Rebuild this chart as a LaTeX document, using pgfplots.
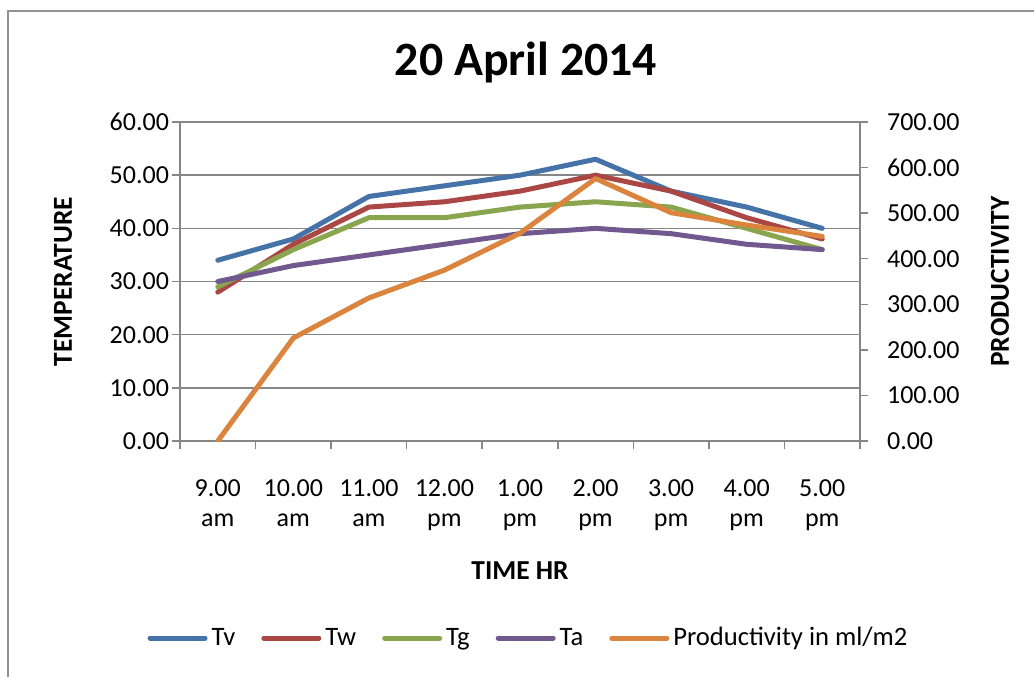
\documentclass[border=0pt]{standalone}
\usepackage{fontspec}
\setmainfont{Carlito}
\usepackage{pgfplots}
\pgfplotsset{compat=1.18}
\definecolor{cTv}{RGB}{69,114,167}
\definecolor{cTw}{RGB}{170,70,67}
\definecolor{cTg}{RGB}{137,165,78}
\definecolor{cTa}{RGB}{113,88,143}
\definecolor{cPr}{RGB}{219,132,61}
\definecolor{axgray}{RGB}{134,134,134}
\begin{document}
\begin{tikzpicture}
\path[use as bounding box] (0,0) rectangle (517pt,-338.5pt);
\draw[axgray!90, line width=1pt] (4pt,-338.5pt) -- (4pt,-5.25pt) -- (517pt,-5.25pt);
\node[font=\fontsize{23.9}{26}\selectfont\bfseries] at (263pt,-31pt) {20 April 2014};
\pgfplotsset{
  common/.style={
    at={(90pt,-220.5pt)}, anchor=south west,
    scale only axis, width=340pt, height=159.5pt,
    xmin=-0.5, xmax=8.5,
    axis line style={axgray, line width=0.75pt},
    tick style={axgray, line width=0.75pt},
    tick align=outside,
    major tick length=4pt,
    minor tick length=4pt,
    /pgf/number format/.cd, fixed, fixed zerofill, precision=2, assume math mode=true,
    /pgfplots/.cd,
    every axis plot/.append style={line width=2.5pt, line cap=round, line join=round},
  }
}
\begin{axis}[common,
  ymin=0, ymax=60, ytick={0,10,...,60},
  yticklabel style={font=\fontsize{13}{15}\selectfont, xshift=2pt},
  xtick={0,...,8}, xtick pos=bottom, ytick pos=left,
  major x tick style={draw=none},
  minor xtick={-0.5,0.5,...,8.5},
  xticklabels={{9.00\\am},{10.00\\am},{11.00\\am},{12.00\\pm},{1.00\\pm},{2.00\\pm},{3.00\\pm},{4.00\\pm},{5.00\\pm}},
  xticklabel style={align=center, font=\fontsize{13}{15}\selectfont, yshift=-12pt},
  ymajorgrids, grid style={axgray, line width=0.75pt},
  xlabel={TIME HR}, xlabel style={font=\fontsize{13.7}{15}\selectfont\bfseries, at={(axis description cs:0.5,-0.4075)}, anchor=center},
  ylabel={TEMPERATURE}, ylabel style={font=\fontsize{13.7}{15}\selectfont\bfseries, at={(axis description cs:-0.172,0.5)}, anchor=center, rotate=0},
]
\addplot[cTv] coordinates {(0,34) (1,38) (2,46) (3,48) (4,50) (5,53) (6,47) (7,44) (8,40)};
\addplot[cTw] coordinates {(0,28) (1,37) (2,44) (3,45) (4,47) (5,50) (6,47) (7,42) (8,38)};
\addplot[cTg] coordinates {(0,29) (1,36) (2,42) (3,42) (4,44) (5,45) (6,44) (7,40) (8,36)};
\addplot[cTa] coordinates {(0,30) (1,33) (2,35) (3,37) (4,39) (5,40) (6,39) (7,37) (8,36)};
\end{axis}
\begin{axis}[common,
  ymin=0, ymax=700, ytick={0,100,...,700},
  yticklabel style={font=\fontsize{13}{15}\selectfont, xshift=6pt},
  axis y line*=right, axis x line=none,
  ylabel={PRODUCTIVITY}, ylabel style={font=\fontsize{13.7}{15}\selectfont\bfseries, at={(axis description cs:1.206,0.5)}, anchor=center, rotate=0},
  legend columns=5,
  legend style={draw=none, at={(0.514,-0.6176)}, anchor=center, font=\fontsize{13.3}{15}\selectfont,
    /tikz/every even column/.append style={column sep=11pt},
    nodes={inner xsep=2pt}},
  legend image code/.code={\draw[#1] (0pt,0pt) -- (27.5pt,0pt);},
]
\addlegendimage{cTv, line width=2.5pt, line cap=round}\addlegendentry{Tv}
\addlegendimage{cTw, line width=2.5pt, line cap=round}\addlegendentry{Tw}
\addlegendimage{cTg, line width=2.5pt, line cap=round}\addlegendentry{Tg}
\addlegendimage{cTa, line width=2.5pt, line cap=round}\addlegendentry{Ta}
\addplot[cPr] coordinates {(0,0) (1,226) (2,314) (3,375) (4,456) (5,576) (6,501) (7,474) (8,449)};
\addlegendentry{Productivity in ml/m2}
\end{axis}
\end{tikzpicture}
\end{document}
